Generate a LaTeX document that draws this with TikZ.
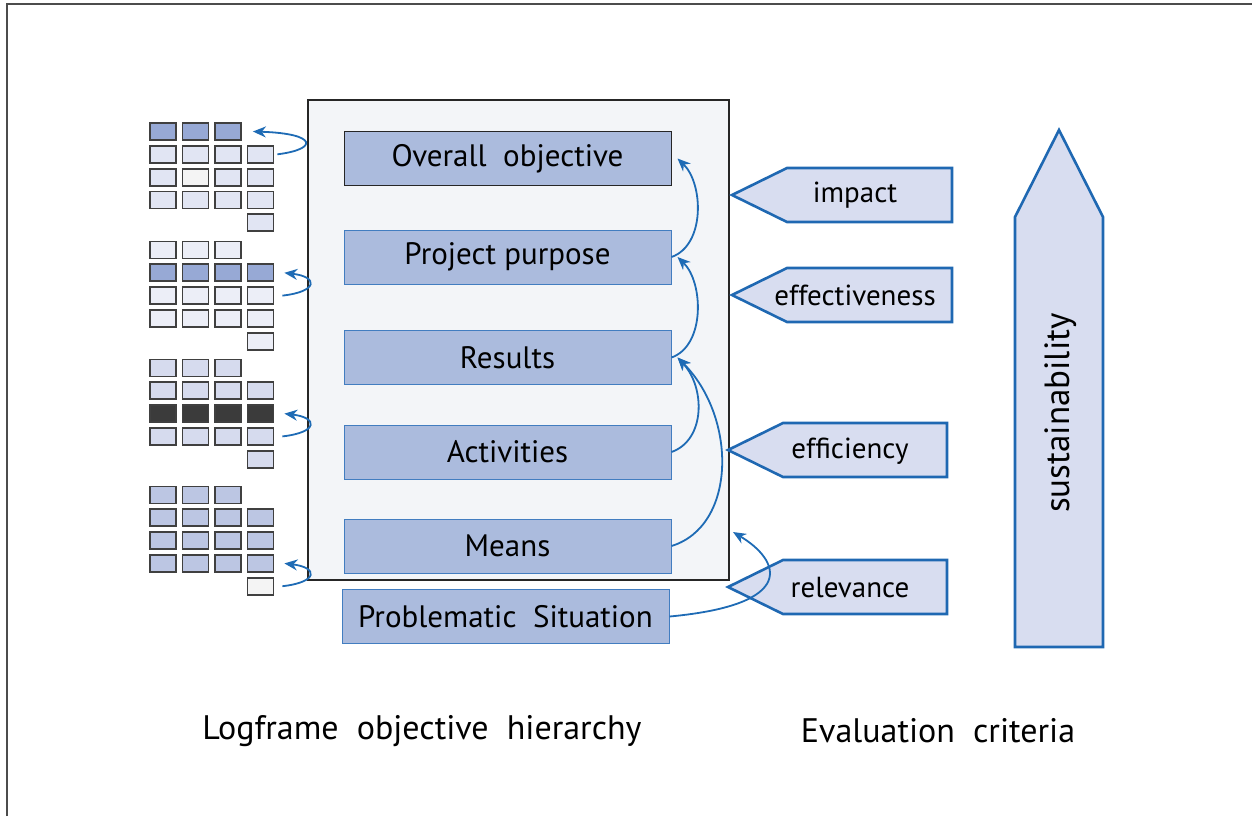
\documentclass[tikz,border=0pt]{standalone}
\usepackage{fontspec}
\setmainfont{PT Sans}
\usetikzlibrary{arrows.meta, positioning}

\definecolor{boxfill}{RGB}{171,187,221}
\definecolor{boxline}{RGB}{66,125,192}
\definecolor{critfill}{RGB}{216,221,240}
\definecolor{critline}{RGB}{31,104,178}
\definecolor{arrowblue}{RGB}{30,107,181}
\definecolor{panelfill}{RGB}{243,245,248}
\definecolor{cellmid}{RGB}{151,169,213}
\definecolor{celllight}{RGB}{225,229,243}
\definecolor{cellpale}{RGB}{236,238,247}
\definecolor{cellsoft}{RGB}{214,219,238}
\definecolor{celldark}{RGB}{59,59,59}
\definecolor{cellblue}{RGB}{188,198,227}
\definecolor{cellwhite}{RGB}{244,244,244}

\tikzset{
  levelbox/.style={draw=boxline, fill=boxfill, line width=0.5pt, minimum width=163.5pt,
    minimum height=27pt, inner sep=0pt, font=\fontsize{15.5}{18}\selectfont},
  cell/.style={draw=black!75, line width=0.9pt, minimum width=13pt, minimum height=8.5pt, inner sep=0pt},
  critshape/.style={draw=critline, fill=critfill, line width=1.3pt, line join=miter},
  critlabel/.style={font=\fontsize{14.5}{17}\selectfont},
  linkar/.style={draw=arrowblue, line width=0.9pt, -{Stealth[length=6.5pt, width=5.5pt]}},
}

% one block of small cells: name, top y, fill of rows 1..5
\newcommand{\minigrid}[7]{%
  \foreach \row/\cols/\fc in {1/3/#3, 2/4/#4, 3/4/#5, 4/4/#6}{
    \foreach \col in {1,...,\cols}{
      \node[cell, fill=\fc] (#1-\row-\col) at ({130.5+32.5*\col}, {#2+22.8*(\row-1)}) {};
    }
  }
  \node[cell, fill=#7] (#1-5-4) at (260.5, {#2+22.8*4}) {};
}

\begin{document}
\begin{tikzpicture}[x=0.5pt, y=-0.5pt]
  \useasboundingbox (0,0) rectangle (1252,816);
  % frame
  \draw[black!70, line width=1pt] (7,816) -- (7,4) -- (1252,4);

  % logframe panel
  \node[draw=black!85, fill=panelfill, line width=0.6pt, minimum width=210.5pt,
    minimum height=240pt, inner sep=0pt] (panel) at (518.5,340) {};

  \node[levelbox, draw=black!85] (oo) at (507.5,158.5) {Overall\ \ objective};
  \node[levelbox] (pp) at (507.5,257) {Project purpose};
  \node[levelbox] (res) at (507.5,357.5) {Results};
  \node[levelbox] (act) at (507.5,452) {Activities};
  \node[levelbox] (mea) at (507.5,546) {Means};
  \node[levelbox] (prob) at (505.5,616.5) {Problematic\ \ Situation};

  \draw[linkar] (pp.east) .. controls +(34,-12) and +(26,25) .. ([xshift=3pt]oo.east);
  \draw[linkar] (res.east) .. controls +(34,-12) and +(26,25) .. ([xshift=3pt]pp.east);
  \draw[linkar] (act.east) .. controls +(34,-12) and +(28,30) .. ([xshift=3pt]res.east);
  \draw[linkar] (mea.east) .. controls +(65,-20) and +(60,60) .. ([xshift=3pt]res.east);

  % small cell blocks
  \minigrid{ga}{131.5}{cellmid}{celllight}{celllight}{celllight}{celllight}
  \node[cell, fill=cellwhite] at (ga-3-2) {};
  \minigrid{gb}{250}{cellpale}{cellmid}{cellpale}{cellpale}{cellpale}
  \minigrid{gc}{368}{cellsoft}{cellsoft}{celldark}{cellsoft}{cellsoft}
  \minigrid{gd}{495}{cellblue}{cellblue}{cellblue}{cellblue}{cellwhite}

  \draw[linkar] ([xshift=1.5pt]ga-2-4.east) .. controls +(41,-5) and +(65,2) .. ([xshift=5.5pt]ga-1-3.east);
  \draw[linkar] ([xshift=4pt]gb-3-4.east) .. controls +(36,-4) and +(34,4) .. ([xshift=5pt]gb-2-4.east);
  \draw[linkar] ([xshift=4pt]gc-4-4.east) .. controls +(36,-4) and +(34,4) .. ([xshift=5pt]gc-3-4.east);
  \draw[linkar] ([xshift=4pt]gd-5-4.east) .. controls +(36,-4) and +(34,4) .. ([xshift=5pt]gd-4-4.east);

  % evaluation criteria
  \draw[critshape] (732,195) -- (787,168) -- (952,168) -- (952,222) -- (787,222) -- cycle;
  \node[critlabel] (impact) at (855,195) {impact};
  \draw[critshape] (732,295) -- (787,268) -- (952,268) -- (952,322) -- (787,322) -- cycle;
  \node[critlabel] (effect) at (855,295) {effectiveness};
  \draw[critshape] (728,450) -- (783,423) -- (947,423) -- (947,477) -- (783,477) -- cycle;
  \node[critlabel] (effic) at (850,451) {efficiency};
  \draw[critshape] (728,587) -- (783,560) -- (947,560) -- (947,614) -- (783,614) -- cycle;
  \node[critlabel] (relev) at (850,588) {relevance};

  \coordinate (relin) at (733,532);
  \draw[linkar] (prob.east) .. controls +(130,-12) and +(47,28) .. (relin);

  \draw[critshape] (1015,647) -- (1015,217) -- (1059,130) -- (1103,217) -- (1103,647) -- cycle;
  \node[rotate=90, font=\fontsize{17.5}{20}\selectfont] (sustain) at (1061,413) {sustainability};

  % captions
  \node[font=\fontsize{17}{20}\selectfont] (loglabel) at (422,731) {Logframe\ \ objective\ \ hierarchy};
  \node[font=\fontsize{17}{20}\selectfont] (evallabel) at (938,731) {Evaluation\ \ criteria};
\end{tikzpicture}
\end{document}
